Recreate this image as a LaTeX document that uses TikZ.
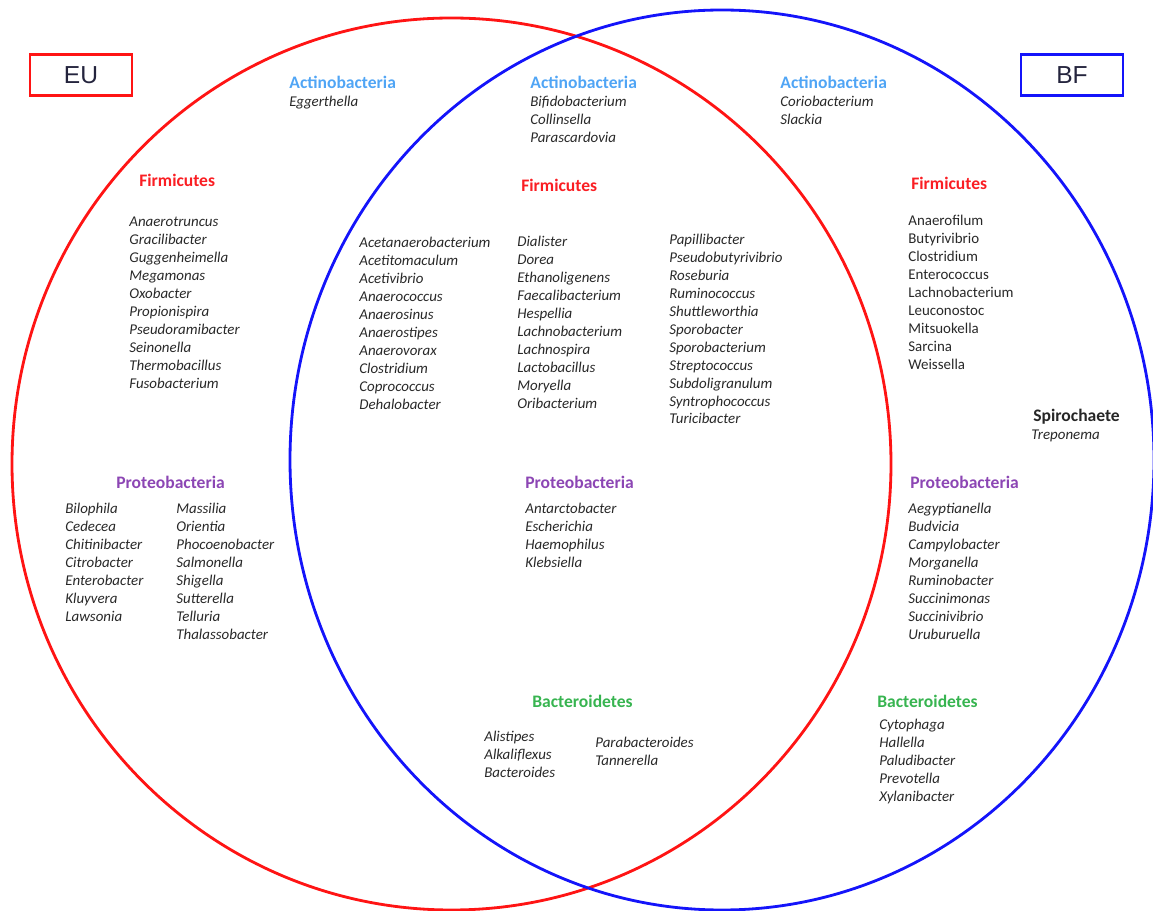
\documentclass[tikz,border=0pt]{standalone}
\usepackage{fontspec}
\setmainfont{Carlito}
\newfontfamily\labelfont{Liberation Sans}

\definecolor{eured}{RGB}{255,20,20}
\definecolor{bfblue}{RGB}{20,20,250}
\definecolor{actblue}{RGB}{80,165,245}
\definecolor{firred}{RGB}{250,30,35}
\definecolor{propurple}{RGB}{140,70,180}
\definecolor{bacgreen}{RGB}{55,180,80}
\definecolor{gentext}{RGB}{40,40,40}

\begin{document}
\begin{tikzpicture}[
        x=0.02cm, y=-0.02cm,
        phylum/.style={anchor=west, inner sep=0pt, font=\fontsize{10}{12}\selectfont\bfseries},
        genus/.style={anchor=north west, inner sep=0pt, align=left, text=gentext, font=\fontsize{8.5}{10.2}\selectfont\itshape},
        genusup/.style={genus, font=\fontsize{8.5}{10.2}\selectfont\upshape},
        setbox/.style={draw, line width=1.6pt, minimum width=102*0.02cm, minimum height=41*0.02cm, text=gentext!90!blue, font=\labelfont\fontsize{14}{16}\selectfont},
    ]
        \useasboundingbox (0,0) rectangle (1153,911);
        \clip (0,0) rectangle (1153,911);

        \draw[eured, line width=1.6pt] (451.5,464) ellipse [x radius=439.5, y radius=446];
        \draw[bfblue, line width=1.6pt] (722,460) ellipse [x radius=432, y radius=450];

        \node[setbox, draw=eured] (eu) at (81,75) {EU};
        \node[setbox, draw=bfblue] (bf) at (1072,75) {BF};

        \node[phylum, text=actblue] (actEU) at (289,82) {Actinobacteria};
        \node[genus] (actEUlist) at (289,96) {Eggerthella};
        \node[phylum, text=actblue] (actBoth) at (530,82) {Actinobacteria};
        \node[genus] (actBothlist) at (530,96) {Bifidobacterium\\Collinsella\\Parascardovia};
        \node[phylum, text=actblue] (actBF) at (780,82) {Actinobacteria};
        \node[genus] (actBFlist) at (780,96) {Coriobacterium\\Slackia};

        \node[phylum, text=firred] (firEU) at (139,180) {Firmicutes};
        \node[genus] (firEUlist) at (129,217) {Anaerotruncus\\Gracilibacter\\Guggenheimella\\Megamonas\\Oxobacter\\Propionispira\\Pseudoramibacter\\Seinonella\\Thermobacillus\\Fusobacterium};

        \node[phylum, text=firred] (firBoth) at (521,185) {Firmicutes};
        \node[genus] (firBothA) at (359,237) {Acetanaerobacterium\\Acetitomaculum\\Acetivibrio\\Anaerococcus\\Anaerosinus\\Anaerostipes\\Anaerovorax\\Clostridium\\Coprococcus\\Dehalobacter};
        \node[genus] (firBothB) at (517,236) {Dialister\\Dorea\\Ethanoligenens\\Faecalibacterium\\Hespellia\\Lachnobacterium\\Lachnospira\\Lactobacillus\\Moryella\\Oribacterium};
        \node[genus] (firBothC) at (669,234) {Papillibacter\\Pseudobutyrivibrio\\Roseburia\\Ruminococcus\\Shuttleworthia\\Sporobacter\\Sporobacterium\\Streptococcus\\Subdoligranulum\\Syntrophococcus\\Turicibacter};

        \node[phylum, text=firred] (firBF) at (911,183) {Firmicutes};
        \node[genusup] (firBFlist) at (908,215) {Anaerofilum\\Butyrivibrio\\Clostridium\\Enterococcus\\Lachnobacterium\\Leuconostoc\\Mitsuokella\\Sarcina\\Weissella};

        \node[phylum, text=black!85] (spiBF) at (1033,417) {Spirochaete};
        \node[genus] (spiBFlist) at (1031,430) {Treponema};

        \node[phylum, text=propurple] (proEU) at (116,482) {Proteobacteria};
        \node[genus] (proEUA) at (65,503) {Bilophila\\Cedecea\\Chitinibacter\\Citrobacter\\Enterobacter\\Kluyvera\\Lawsonia};
        \node[genus] (proEUB) at (176,503) {Massilia\\Orientia\\Phocoenobacter\\Salmonella\\Shigella\\Sutterella\\Telluria\\Thalassobacter};

        \node[phylum, text=propurple] (proBoth) at (525,482) {Proteobacteria};
        \node[genus] (proBothlist) at (525,503) {Antarctobacter\\Escherichia\\Haemophilus\\Klebsiella};

        \node[phylum, text=propurple] (proBF) at (910,482) {Proteobacteria};
        \node[genus] (proBFlist) at (908,503) {Aegyptianella\\Budvicia\\Campylobacter\\Morganella\\Ruminobacter\\Succinimonas\\Succinivibrio\\Uruburuella};

        \node[phylum, text=bacgreen] (bacBoth) at (532,701) {Bacteroidetes};
        \node[genus] (bacBothA) at (484,731) {Alistipes\\Alkaliflexus\\Bacteroides};
        \node[genus] (bacBothB) at (595,737) {Parabacteroides\\Tannerella};

        \node[phylum, text=bacgreen] (bacBF) at (877,701) {Bacteroidetes};
        \node[genus] (bacBFlist) at (879,719) {Cytophaga\\Hallella\\Paludibacter\\Prevotella\\Xylanibacter};
    \end{tikzpicture}
\end{document}
